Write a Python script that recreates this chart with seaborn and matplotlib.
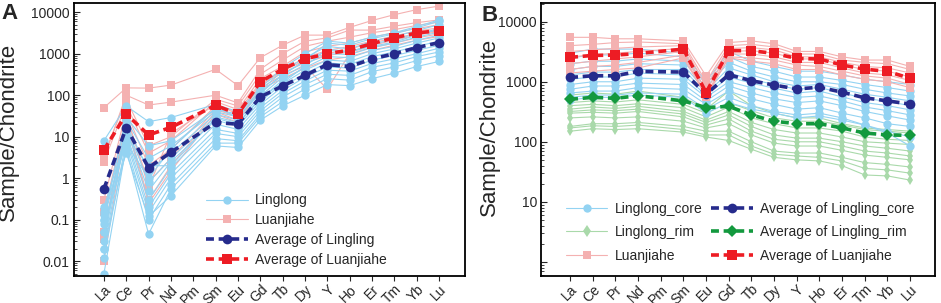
import numpy as np
import pandas as pd
import matplotlib
matplotlib.use("Agg")
import matplotlib.pyplot as plt
from matplotlib.lines import Line2D
from matplotlib.ticker import FixedLocator, LogLocator, NullFormatter
import seaborn as sns

# REE order on the x axis (Pm has no data)
elements = ['La', 'Ce', 'Pr', 'Nd', 'Pm', 'Sm', 'Eu', 'Gd', 'Tb', 'Dy', 'Y', 'Ho', 'Er', 'Tm', 'Yb', 'Lu']
ree = ['La', 'Ce', 'Pr', 'Nd', 'Sm', 'Eu', 'Gd', 'Tb', 'Dy', 'Y', 'Ho', 'Er', 'Tm', 'Yb', 'Lu']

# ---- panel A ----
linglong_a = [
    [8, 55, 23, 29, 60, 40, 150, 450, 1000, 2000, 1800, 2500, 3200, 4500, 6500],
    [0.1, 30, 6, 8, 45, 35, 130, 380, 800, 1500, 1300, 2000, 2600, 3600, 5000],
    [0.13, 25, 3, 6, 40, 30, 110, 320, 650, 1200, 1100, 1700, 2200, 3000, 4000],
    [0.05, 20, 1.5, 4, 35, 25, 95, 270, 550, 1000, 950, 1400, 1800, 2500, 3300],
    [0.03, 18, 0.8, 3, 30, 22, 80, 230, 460, 850, 800, 1200, 1500, 2100, 2800],
    [0.02, 15, 0.5, 2.5, 25, 18, 70, 190, 400, 700, 650, 1000, 1300, 1800, 2400],
    [0.1, 12, 0.3, 1.8, 20, 15, 60, 160, 330, 600, 550, 850, 1100, 1500, 2000],
    [0.05, 10, 0.2, 1.3, 15, 12, 50, 130, 270, 480, 450, 700, 900, 1200, 1600],
    [0.012, 8, 0.15, 1, 12, 10, 42, 110, 220, 400, 380, 580, 750, 1000, 1350],
    [0.005, 6, 0.1, 0.7, 9, 8, 35, 90, 180, 320, 300, 470, 600, 850, 1100],
    [0.02, 5, 0.045, 0.55, 7, 7, 30, 70, 140, 250, 230, 370, 480, 680, 900],
    [0.08, 4, 0.12, 0.38, 6, 5.5, 25, 55, 100, 180, 170, 250, 340, 490, 650],
    [0.15, 7, 1, 5, 50, 30, 120, 300, 700, 1800, 1600, 2300, 3000, 4200, 6000],
    [0.2, 10, 2, 2, 28, 20, 85, 200, 500, 1300, 1100, 1500, 1900, 2800, 3800],
]
luanjiahe_a = [
    [50, 150, 148, 175, 420, 170, 800, 1600, 2800, 2800, 4300, 6300, 8700, 11500, 14000],
    [3, 100, 58, 68, 100, 65, 420, 1000, 2000, 2400, 3700, 3700, 4600, 5600, 6500],
    [3.5, 80, 6, 10, 80, 55, 320, 700, 1500, 2000, 2500, 3200, 3800, 4800, 5800],
    [2.5, 60, 4, 8, 70, 45, 250, 500, 1100, 1500, 1800, 2500, 3200, 4000, 5000],
    [0.3, 40, 2, 5, 55, 40, 200, 400, 800, 1200, 1500, 2000, 2700, 3500, 4200],
    [0.15, 30, 0.8, 3, 45, 30, 170, 350, 600, 900, 1100, 1600, 2100, 2800, 3400],
    [0.05, 25, 0.3, 2, 40, 25, 150, 300, 500, 140, 1000, 1400, 1800, 2400, 3000],
    [0.01, 20, 0.25, 1.5, 35, 22, 140, 250, 450, 700, 850, 1200, 1600, 2100, 2600],
    [0.035, 35, 0.6, 12, 60, 35, 180, 380, 700, 1000, 1300, 1800, 2400, 3000, 3600],
]
avg_linglong_a = [0.55, 16.5, 1.8, 4.2, 22, 20, 91, 167, 300, 545, 490, 745, 1000, 1400, 1850]
avg_luanjiahe_a = [4.8, 35, 11, 16.8, 57, 35, 210, 425, 750, 1000, 1220, 1750, 2420, 3150, 3600]

# ---- panel B : core / rim ----
linglong_core_b = [
    [3000, 3500, 3500, 3500, 3000, 1000, 3200, 2200, 1800, 1500, 1500, 1300, 1100, 1000, 900],
    [2500, 2800, 2800, 3000, 2600, 900, 2600, 1800, 1500, 1200, 1200, 1050, 900, 800, 700],
    [2000, 2200, 2200, 2400, 2200, 800, 2100, 1500, 1200, 1000, 1000, 900, 750, 650, 580],
    [1600, 1800, 1800, 2000, 1900, 700, 1700, 1300, 1000, 850, 900, 750, 620, 550, 480],
    [1300, 1450, 1450, 1600, 1600, 650, 1400, 1100, 900, 750, 800, 650, 530, 470, 400],
    [1100, 1200, 1200, 1400, 1300, 600, 1200, 950, 780, 650, 700, 560, 450, 400, 340],
    [900, 1000, 1000, 1150, 1100, 550, 1000, 800, 650, 550, 580, 480, 380, 330, 280],
    [750, 850, 850, 950, 900, 480, 850, 650, 520, 450, 480, 400, 320, 270, 230],
    [650, 700, 700, 800, 750, 420, 700, 520, 420, 350, 370, 300, 250, 200, 180],
    [550, 600, 600, 650, 620, 350, 550, 400, 320, 280, 300, 250, 190, 150, 120],
    [500, 550, 550, 600, 550, 300, 450, 350, 300, 250, 270, 230, 190, 140, 85],
]
linglong_rim_b = [
    [600, 650, 620, 700, 550, 350, 700, 400, 300, 250, 250, 200, 170, 160, 150],
    [450, 480, 460, 500, 420, 300, 450, 330, 250, 220, 220, 190, 160, 150, 140],
    [400, 420, 400, 430, 370, 260, 380, 250, 200, 170, 170, 150, 120, 110, 105],
    [350, 380, 360, 390, 320, 230, 320, 210, 160, 140, 140, 120, 100, 95, 90],
    [320, 340, 330, 350, 290, 210, 280, 180, 130, 115, 115, 100, 85, 78, 70],
    [300, 310, 300, 320, 260, 190, 240, 150, 110, 100, 100, 85, 70, 65, 58],
    [250, 260, 250, 260, 220, 170, 200, 130, 95, 85, 85, 72, 60, 55, 50],
    [180, 200, 200, 210, 180, 150, 150, 100, 70, 65, 65, 55, 45, 42, 38],
    [170, 185, 180, 190, 160, 130, 130, 85, 62, 58, 55, 48, 36, 34, 30],
    [150, 165, 160, 165, 145, 120, 105, 75, 55, 50, 48, 40, 28, 27, 23],
]
luanjiahe_b = [
    [5500, 5500, 5200, 5200, 4800, 1250, 4500, 4800, 4300, 3200, 3200, 2600, 2300, 2300, 1800],
    [4000, 4200, 4500, 4600, 4300, 1000, 4000, 4200, 3800, 2900, 2900, 2300, 2100, 2000, 1600],
    [3200, 3400, 3600, 3800, 4000, 850, 3600, 3700, 3400, 2600, 2600, 2100, 1800, 1700, 1400],
    [2600, 2800, 3000, 3200, 3600, 700, 3200, 3300, 3000, 2400, 2400, 1900, 1600, 1500, 1200],
    [2000, 2200, 2400, 2600, 3200, 600, 2900, 2900, 2600, 2100, 2100, 1700, 1400, 1300, 1050],
    [1600, 1800, 1900, 2100, 2800, 550, 2600, 2500, 2300, 1900, 1800, 1500, 1250, 1150, 900],
    [1400, 1500, 1600, 1700, 2500, 580, 2500, 2200, 2000, 1600, 1600, 1300, 1100, 1000, 800],
]
avg_core_b = [1180, 1260, 1260, 1490, 1450, 620, 1310, 1040, 880, 760, 810, 670, 540, 480, 425]
avg_rim_b = [510, 550, 530, 585, 480, 370, 390, 280, 220, 200, 200, 170, 140, 130, 128]
avg_luanjiahe_b = [2550, 2750, 2780, 2960, 3500, 660, 3300, 3300, 2960, 2450, 2390, 1900, 1620, 1490, 1140]

c_blue = '#93d3f2'
c_pink = '#f4b1b1'
c_green = '#a9d9aa'
c_navy = '#262b8c'
c_red = '#ed1c24'
c_dgreen = '#13993e'
DASH = (0, (2.2, 1.3))

sns.set_style('ticks')
plt.rcParams['font.family'] = ['Liberation Sans', 'DejaVu Sans']

xpos = {el: i for i, el in enumerate(elements)}


def to_long(samples):
    rows = []
    for i, s in enumerate(samples):
        for el, v in zip(ree, s):
            rows.append((i, xpos[el], v))
    return pd.DataFrame(rows, columns=['sample', 'x', 'value'])


def draw_samples(ax, samples, color, marker, ms):
    sns.lineplot(data=to_long(samples), x='x', y='value', units='sample', estimator=None,
                 color=color, marker=marker, markersize=ms, markeredgewidth=0,
                 linewidth=0.8, ax=ax, legend=False)


def draw_avg(ax, values, color, marker, ms):
    sns.lineplot(x=[xpos[e] for e in ree], y=values, color=color, marker=marker,
                 markersize=ms, markeredgewidth=0, linewidth=2.6,
                 linestyle=DASH, ax=ax, legend=False)


def style_axes(ax, yticks, ylabels, ylim, xlim):
    ax.set_yscale('log')
    ax.set_ylim(*ylim)
    ax.set_xlim(*xlim)
    ax.yaxis.set_major_locator(FixedLocator(yticks))
    ax.set_yticklabels(ylabels, fontsize=10)
    ax.yaxis.set_minor_locator(LogLocator(base=10, subs=np.arange(2, 10), numticks=20))
    ax.yaxis.set_minor_formatter(NullFormatter())
    ax.tick_params(axis='y', which='major', direction='in', length=4, width=0.8, pad=3)
    ax.tick_params(axis='y', which='minor', direction='in', length=2, width=0.6)
    ax.set_xticks(range(len(elements)))
    ax.set_xticklabels(elements, rotation=45, ha='right', rotation_mode='anchor', fontsize=10)
    ax.tick_params(axis='x', direction='out', length=3.5, width=0.8, pad=1)
    ax.set_xlabel('')
    ax.set_ylabel('Sample/Chondrite', fontsize=16)
    for sp in ax.spines.values():
        sp.set_visible(True)
        sp.set_linewidth(1.3)
        sp.set_color('black')


def handle(color, marker, ms, avg=False):
    if avg:
        return Line2D([], [], color=color, marker=marker, markersize=ms, markeredgewidth=0,
                      lw=2.6, ls=DASH)
    return Line2D([], [], color=color, marker=marker, markersize=ms, markeredgewidth=0, lw=0.8)


fig = plt.figure(figsize=(9.41, 3.03), dpi=100)
ax1 = fig.add_axes([0.0786, 0.089, 0.4155, 0.901])
ax2 = fig.add_axes([0.575, 0.089, 0.4187, 0.901])

# panel A
draw_samples(ax1, luanjiahe_a, c_pink, 's', 6)
draw_samples(ax1, linglong_a, c_blue, 'o', 6)
draw_avg(ax1, avg_linglong_a, c_navy, 'o', 7)
draw_avg(ax1, avg_luanjiahe_a, c_red, 's', 7)
style_axes(ax1, [0.01, 0.1, 1, 10, 100, 1000, 10000],
           ['0.01', '0.1', '1', '10', '100', '1000', '10000'],
           (0.0044, 16600), (-1.34, 16.16))
ax1.yaxis.set_label_coords(-0.14, 0.527)

h_a = [handle(c_blue, 'o', 6), handle(c_pink, 's', 6),
       handle(c_navy, 'o', 7, True), handle(c_red, 's', 7, True)]
ax1.legend(h_a, ['Linglong', 'Luanjiahe', 'Average of Lingling', 'Average of Luanjiahe'],
           loc='upper left', bbox_to_anchor=(0.32, 0.328), frameon=False, fontsize=10,
           handlelength=3.0, handletextpad=0.55, labelspacing=0.42, borderpad=0)

# panel B
draw_samples(ax2, linglong_rim_b, c_green, 'd', 5.5)
draw_samples(ax2, linglong_core_b, c_blue, 'o', 6)
draw_samples(ax2, luanjiahe_b, c_pink, 's', 6)
draw_avg(ax2, avg_core_b, c_navy, 'o', 7)
draw_avg(ax2, avg_rim_b, c_dgreen, 'D', 6)
draw_avg(ax2, avg_luanjiahe_b, c_red, 's', 7)
style_axes(ax2, [1, 10, 100, 1000, 10000], ['', '10', '100', '1000', '10000'],
           (0.58, 20500), (-1.28, 16.1))
ax2.yaxis.set_label_coords(-0.105, 0.545)

h_b = [handle(c_blue, 'o', 6), handle(c_green, 'd', 6), handle(c_pink, 's', 6),
       handle(c_navy, 'o', 7, True), handle(c_dgreen, 'D', 6, True), handle(c_red, 's', 7, True)]
ax2.legend(h_b, ['Linglong_core', 'Linglong_rim', 'Luanjiahe',
                 'Average of Lingling_core', 'Average of Lingling_rim', 'Average of Luanjiahe'],
           ncol=2, loc='upper left', bbox_to_anchor=(0.045, 0.298), frameon=False, fontsize=10,
           handlelength=3.0, handletextpad=0.55, labelspacing=0.68, columnspacing=0.6, borderpad=0)

fig.text(0.002, 0.99, 'A', fontsize=16, fontweight='bold', va='top', ha='left')
fig.text(0.512, 0.985, 'B', fontsize=16, fontweight='bold', va='top', ha='left')

fig.savefig('out.png', dpi=100)
